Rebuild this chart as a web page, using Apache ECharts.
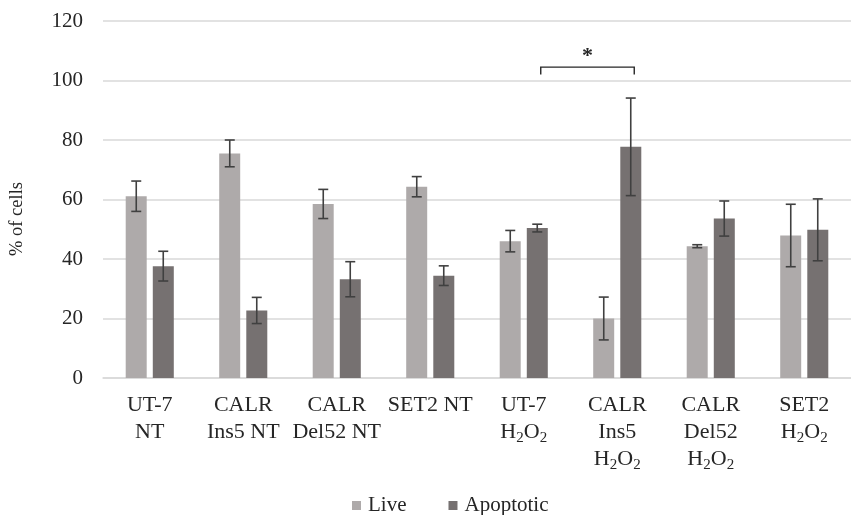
<!DOCTYPE html>
<html>
<head>
<meta charset="utf-8">
<script src="https://cdn.jsdelivr.net/npm/echarts@6/dist/echarts.min.js"></script>
<style>html,body{margin:0;padding:0;background:#fff;}#c{width:851px;height:515px;}</style>
</head>
<body>
<div id="c"></div>
<script>
var categories = ['UT-7\nNT', 'CALR\nIns5 NT', 'CALR\nDel52 NT', 'SET2 NT', 'UT-7\nH{sub|2}O{sub|2}', 'CALR\nIns5\nH{sub|2}O{sub|2}', 'CALR\nDel52\nH{sub|2}O{sub|2}', 'SET2\nH{sub|2}O{sub|2}'];
var seriesNames = ['Live', 'Apoptotic'];
var liveValues = [61.1, 75.5, 58.5, 64.3, 46.0, 20.0, 44.3, 47.9];
var liveErr = [5.1, 4.5, 4.9, 3.4, 3.6, 7.2, 0.5, 10.5];
var apopValues = [37.6, 22.7, 33.2, 34.4, 50.4, 77.7, 53.6, 49.8];
var apopErr = [5.0, 4.4, 5.9, 3.3, 1.3, 16.4, 5.9, 10.4];
var yTicks = [0, 20, 40, 60, 80, 100, 120];
var bracket = {from: 4, to: 5, value: 104.5, legValue: 102.0, starValue: 109.5, label: '*'};
var yTitle = '% of cells';

var SERIF = '"Liberation Serif", "Times New Roman", serif';
var TXT = '#262626';
var BAR_W = 21, HALF_STEP = 13.5;

function errData(vals, errs) {
  return vals.map(function (v, i) { return [i, v - errs[i], v + errs[i]]; });
}

function errRender(offset) {
  return function (params, api) {
    var lo = api.coord([api.value(0), api.value(1)]);
    var hi = api.coord([api.value(0), api.value(2)]);
    var x = lo[0] + offset;
    var cap = 5;
    var st = {stroke: '#404040', lineWidth: 1.6};
    return {type: 'group', children: [
      {type: 'line', shape: {x1: x, y1: hi[1], x2: x, y2: lo[1]}, style: st},
      {type: 'line', shape: {x1: x - cap, y1: hi[1], x2: x + cap, y2: hi[1]}, style: st},
      {type: 'line', shape: {x1: x - cap, y1: lo[1], x2: x + cap, y2: lo[1]}, style: st}
    ]};
  };
}

var chart = echarts.init(document.getElementById('c'), null, {renderer: 'canvas'});
chart.setOption({
  animation: false,
  backgroundColor: '#ffffff',
  grid: {left: 103, right: -13, top: 21, bottom: 137, containLabel: false},
  legend: {
    data: seriesNames,
    left: 347, top: 490,
    icon: 'rect', itemWidth: 9, itemHeight: 9, itemGap: 42,
    textStyle: {fontFamily: SERIF, fontSize: 21, color: TXT, padding: [0, 0, 0, 2]}
  },
  xAxis: {
    type: 'category',
    data: categories,
    axisLine: {show: true, lineStyle: {color: '#d9d9d9', width: 1.5}},
    axisTick: {show: false},
    axisLabel: {
      interval: 0, margin: 14,
      fontFamily: SERIF, fontSize: 22, color: TXT, lineHeight: 27,
      rich: {sub: {fontFamily: SERIF, fontSize: 15, color: TXT, lineHeight: 27, verticalAlign: 'bottom', padding: [10, 0, 0, 0]}}
    }
  },
  yAxis: {
    type: 'value', min: yTicks[0], max: yTicks[yTicks.length - 1], interval: 20,
    axisLine: {show: false}, axisTick: {show: false},
    axisLabel: {margin: 20, fontFamily: SERIF, fontSize: 21, color: TXT},
    splitLine: {lineStyle: {color: '#d9d9d9', width: 1.5}}
  },
  graphic: [{
    type: 'text', x: 17, y: 219, rotation: Math.PI / 2,
    style: {text: yTitle, fontFamily: SERIF, fontSize: 18.5, fill: TXT, align: 'center', verticalAlign: 'middle'}
  }],
  series: [
    {name: seriesNames[0], type: 'bar', data: liveValues, barWidth: BAR_W, barGap: '29%', itemStyle: {color: '#aeaaaa'}},
    {name: seriesNames[1], type: 'bar', data: apopValues, barWidth: BAR_W, barGap: '29%', itemStyle: {color: '#767171'}},
    {type: 'custom', data: errData(liveValues, liveErr), renderItem: errRender(-HALF_STEP), z: 10, silent: true, encode: {x: 0, y: [1, 2]}},
    {type: 'custom', data: errData(apopValues, apopErr), renderItem: errRender(HALF_STEP), z: 10, silent: true, encode: {x: 0, y: [1, 2]}},
    {type: 'custom', data: [[bracket.from, bracket.to, bracket.value, bracket.legValue, bracket.starValue]], z: 10, silent: true,
      renderItem: function (params, api) {
        var a = api.coord([api.value(0), api.value(2)]);
        var b = api.coord([api.value(1), api.value(2)]);
        var leg = api.coord([api.value(0), api.value(3)]);
        var star = api.coord([api.value(0), api.value(4)]);
        var off = 17;
        var xa = a[0] + off, xb = b[0] + off;
        return {type: 'group', children: [
          {type: 'polyline', shape: {points: [[xa, leg[1]], [xa, a[1]], [xb, b[1]], [xb, leg[1]]]}, style: {stroke: '#262626', lineWidth: 1.4, fill: null}},
          {type: 'text', style: {x: (xa + xb) / 2, y: star[1] + 4, text: bracket.label, fontFamily: SERIF, fontSize: 22, fontWeight: 'bold', fill: '#262626', align: 'center', verticalAlign: 'middle'}}
        ]};
      }
    }
  ]
});
</script>
</body>
</html>
